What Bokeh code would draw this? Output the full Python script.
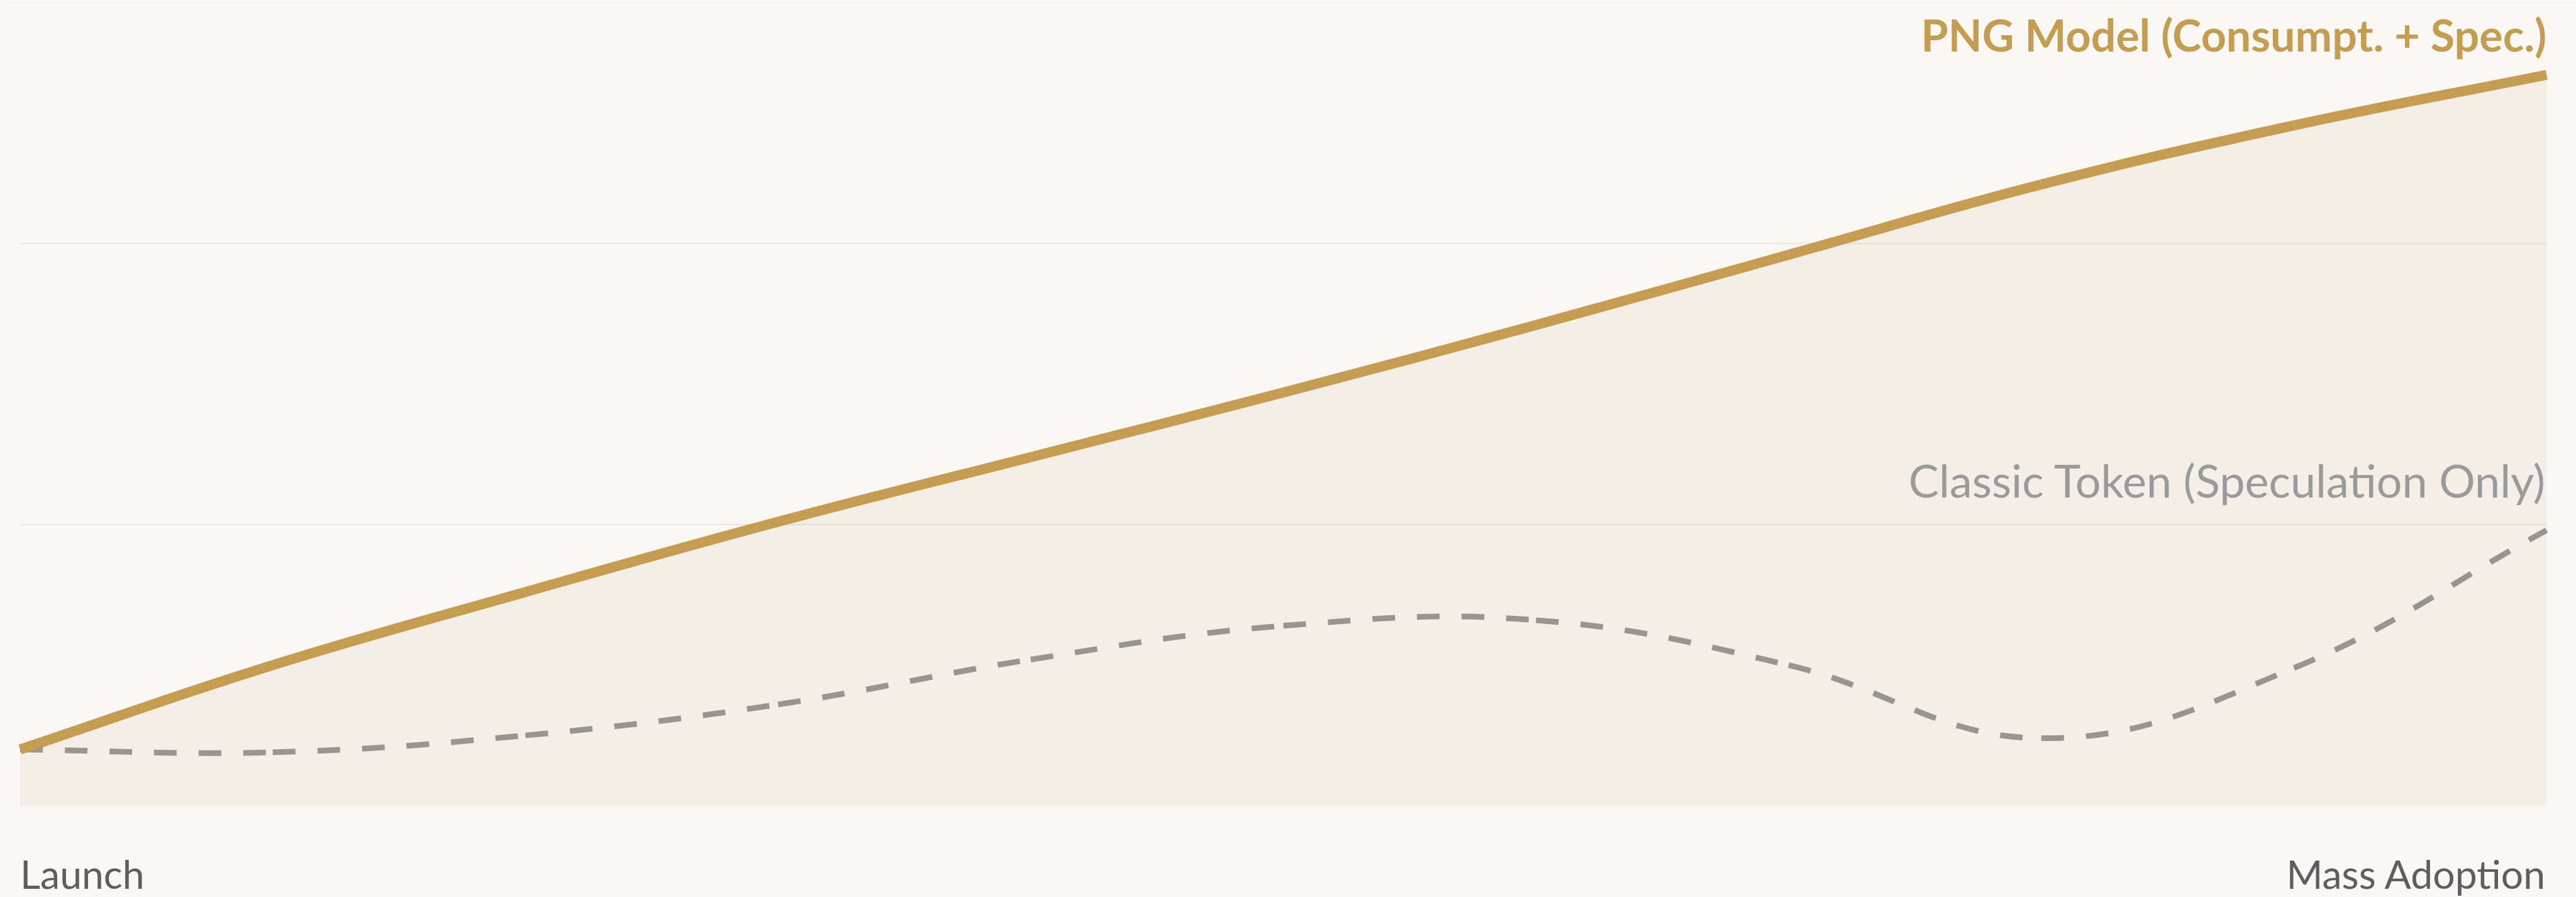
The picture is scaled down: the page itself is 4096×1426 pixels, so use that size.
import math
from bokeh.plotting import figure
from bokeh.models import ColumnDataSource
from bokeh.embed import file_html
from bokeh.resources import INLINE
from bokeh.core.properties import value

# ---- data ----
stage_labels = ["Launch", "", "", "", "", "", "", "", "", "", "Mass Adoption"]
png_model = [10, 25, 38, 50.5, 62, 73.5, 85.5, 98, 110.5, 121, 130]
classic_token = [10, 9.5, 12.5, 18, 26, 32, 33, 25, 12, 24.5, 49]
grid_values = [50, 100]
series_names = ["PNG Model (Consumpt. + Spec.)", "Classic Token (Speculation Only)"]

# ---- layout ----
W, H = 4096, 1426
X_START, X_END = -0.0784, 10.1177
Y_START, Y_END = -16.30, 143.26
BG = "#F9F8F4"
GOLD = "#C59D52"
GRAY = "#98948E"

x = list(range(len(stage_labels)))

p = figure(width=W, height=H, x_range=(X_START, X_END), y_range=(Y_START, Y_END),
           output_backend="svg", toolbar_location=None,
           x_axis_type=None, y_axis_type=None, min_border=0)
p.outline_line_color = None
p.background_fill_color = BG
p.border_fill_color = BG

sx = W / (X_END - X_START)
sy = H / (Y_END - Y_START)


def bezier_source(xs, ys, tension=0.4):
    n = len(xs)
    cprev, cnext = [], []
    for i in range(n):
        a = max(i - 1, 0)
        b = min(i + 1, n - 1)
        d01 = math.hypot((xs[i] - xs[a]) * sx, (ys[i] - ys[a]) * sy)
        d12 = math.hypot((xs[b] - xs[i]) * sx, (ys[b] - ys[i]) * sy)
        tot = d01 + d12
        s01 = d01 / tot if tot else 0.0
        s12 = d12 / tot if tot else 0.0
        fa, fb = tension * s01, tension * s12
        cprev.append((xs[i] - fa * (xs[b] - xs[a]), ys[i] - fa * (ys[b] - ys[a])))
        cnext.append((xs[i] + fb * (xs[b] - xs[a]), ys[i] + fb * (ys[b] - ys[a])))
    return ColumnDataSource(dict(
        x0=xs[:-1], y0=ys[:-1], x1=xs[1:], y1=ys[1:],
        cx0=[c[0] for c in cnext[:-1]], cy0=[c[1] for c in cnext[:-1]],
        cx1=[c[0] for c in cprev[1:]], cy1=[c[1] for c in cprev[1:]],
    ))


# area under the PNG line
p.varea(x=x, y1=[0] * len(x), y2=png_model, fill_color="#F3EFE6", fill_alpha=1.0)

# horizontal grid lines
p.segment(x0=[x[0]] * len(grid_values), x1=[x[-1]] * len(grid_values),
          y0=grid_values, y1=grid_values,
          line_color="#000000", line_alpha=0.05, line_width=3)

# classic token (dashed)
p.bezier(x0="x0", y0="y0", x1="x1", y1="y1", cx0="cx0", cy0="cy0", cx1="cx1", cy1="cy1",
         source=bezier_source(x, classic_token), line_color=GRAY, line_width=9,
         line_dash="36 35")

# PNG model (solid gold)
p.bezier(x0="x0", y0="y0", x1="x1", y1="y1", cx0="cx0", cy0="cy0", cx1="cx1", cy1="cy1",
         source=bezier_source(x, png_model), line_color=GOLD, line_width=16)

# series labels
p.text(x=[x[-1]], y=[137.2], text=[series_names[0]], text_align="right",
       text_baseline="alphabetic", text_font=value("Lato"), text_font_style="bold",
       text_font_size="70px", text_color=GOLD)
p.text(x=[x[-1]], y=[57.9], text=[series_names[1]], text_align="right",
       text_baseline="alphabetic", text_font=value("Lato"),
       text_font_size="72px", text_color="#9A9A9A")

# category labels (first and last)
p.text(x=[x[0]], y=[-12.0], text=[stage_labels[0]], text_align="left",
       text_baseline="alphabetic", text_font=value("Lato"),
       text_font_size="62.5px", text_color="#5E5E5E")
p.text(x=[x[-1]], y=[-12.0], text=[stage_labels[-1]], text_align="right",
       text_baseline="alphabetic", text_font=value("Lato"),
       text_font_size="62.5px", text_color="#5E5E5E")

html = file_html(p, INLINE)
html = html.replace("<body>", '<body style="background-color:%s;">' % BG, 1)
open("out.html", "w").write(html)
